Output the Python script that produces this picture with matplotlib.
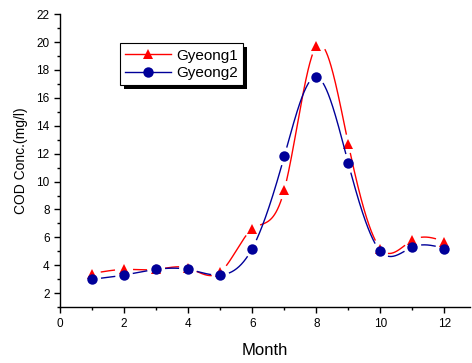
import numpy as np
import matplotlib
matplotlib.use("Agg")
import matplotlib.pyplot as plt
from matplotlib.ticker import MultipleLocator
from matplotlib.patches import Rectangle
import matplotlib.transforms as mtransforms

plt.rcParams['font.family'] = ['Liberation Sans', 'DejaVu Sans']

months = [1, 2, 3, 4, 5, 6, 7, 8, 9, 10, 11, 12]
gyeong1 = [3.4, 3.7, 3.7, 3.8, 3.5, 6.6, 9.4, 19.7, 12.7, 5.2, 5.8, 5.7]
gyeong2 = [3.0, 3.3, 3.7, 3.7, 3.3, 5.2, 11.8, 17.5, 11.3, 5.0, 5.3, 5.2]


def natural_spline(x, y, xs):
    x = np.asarray(x, float)
    y = np.asarray(y, float)
    n = len(x)
    h = np.diff(x)
    A = np.zeros((n, n))
    b = np.zeros(n)
    A[0, 0] = A[-1, -1] = 1.0
    for i in range(1, n - 1):
        A[i, i - 1] = h[i - 1]
        A[i, i] = 2 * (h[i - 1] + h[i])
        A[i, i + 1] = h[i]
        b[i] = 6 * ((y[i + 1] - y[i]) / h[i] - (y[i] - y[i - 1]) / h[i - 1])
    M = np.linalg.solve(A, b)
    idx = np.clip(np.searchsorted(x, xs) - 1, 0, n - 2)
    x0, x1 = x[idx], x[idx + 1]
    hh = x1 - x0
    t0, t1 = x1 - xs, xs - x0
    return (M[idx] * t0 ** 3 / (6 * hh) + M[idx + 1] * t1 ** 3 / (6 * hh)
            + (y[idx] / hh - M[idx] * hh / 6) * t0
            + (y[idx + 1] / hh - M[idx + 1] * hh / 6) * t1)


fig = plt.figure(figsize=(4.72, 3.63), dpi=100)
ax = fig.add_axes([0.127, 0.154, 0.869, 0.807])
ax.set_xlim(0, 12.8)
ax.set_ylim(1, 22)

series = [
    (gyeong1, '#ff0000', '^', 'Gyeong1'),
    (gyeong2, '#000099', 'o', 'Gyeong2'),
]

xs = np.linspace(months[0], months[-1], 1200)
fig.canvas.draw()
trans = ax.transData
for vals, color, marker, label in series:
    ys = natural_spline(months, vals, xs)
    # leave a small gap in the curve around each marker
    pts = trans.transform(np.column_stack([xs, ys]))
    mk = trans.transform(np.column_stack([months, vals]))
    d = np.min(np.hypot(pts[:, None, 0] - mk[None, :, 0],
                        pts[:, None, 1] - mk[None, :, 1]), axis=1)
    ys_gap = np.where(d < 9.5, np.nan, ys)
    ax.plot(xs, ys_gap, color=color, lw=1.0)
    ax.plot(months, vals, linestyle='none', marker=marker, color=color,
            markersize=7.5, markeredgewidth=0)
    ax.plot([], [], color=color, lw=1.0, marker=marker, markersize=7.5,
            markeredgewidth=0, label=label)

for s in ['top', 'right']:
    ax.spines[s].set_visible(False)
for s in ['left', 'bottom']:
    ax.spines[s].set_linewidth(1.0)

ax.xaxis.set_major_locator(MultipleLocator(2))
ax.xaxis.set_minor_locator(MultipleLocator(1))
ax.yaxis.set_minor_locator(MultipleLocator(1))
ax.set_yticks(np.arange(2, 23, 2))
ax.tick_params(which='major', direction='out', length=4, width=1,
               labelsize=8.5)
ax.tick_params(which='minor', direction='out', length=2.5, width=1)

ax.set_xlabel('Month', fontsize=12, labelpad=10)
ax.set_ylabel('COD Conc.(mg/l)', fontsize=10, labelpad=6)

leg = ax.legend(loc='upper left', bbox_to_anchor=(0.146, 0.90),
                fontsize=11, frameon=True, fancybox=False, shadow=False,
                framealpha=1.0,
                borderpad=0.35, handlelength=3.0, handletextpad=0.35,
                labelspacing=0.2, borderaxespad=0)
leg.get_frame().set_edgecolor('black')
leg.get_frame().set_facecolor('white')
leg.get_frame().set_linewidth(0.8)
leg.set_zorder(6)

# solid black drop shadow behind the legend box
fig.canvas.draw()
bb = leg.get_window_extent()
off = mtransforms.offset_copy(fig.transFigure, fig=fig, x=4, y=-4,
                              units='dots')
W, H = fig.bbox.width, fig.bbox.height
shadow = Rectangle((bb.x0 / W, bb.y0 / H), bb.width / W, bb.height / H,
                   transform=off, facecolor='black', edgecolor='none',
                   zorder=5, clip_on=False)
ax.add_artist(shadow)

fig.savefig('out.png', dpi=100)
